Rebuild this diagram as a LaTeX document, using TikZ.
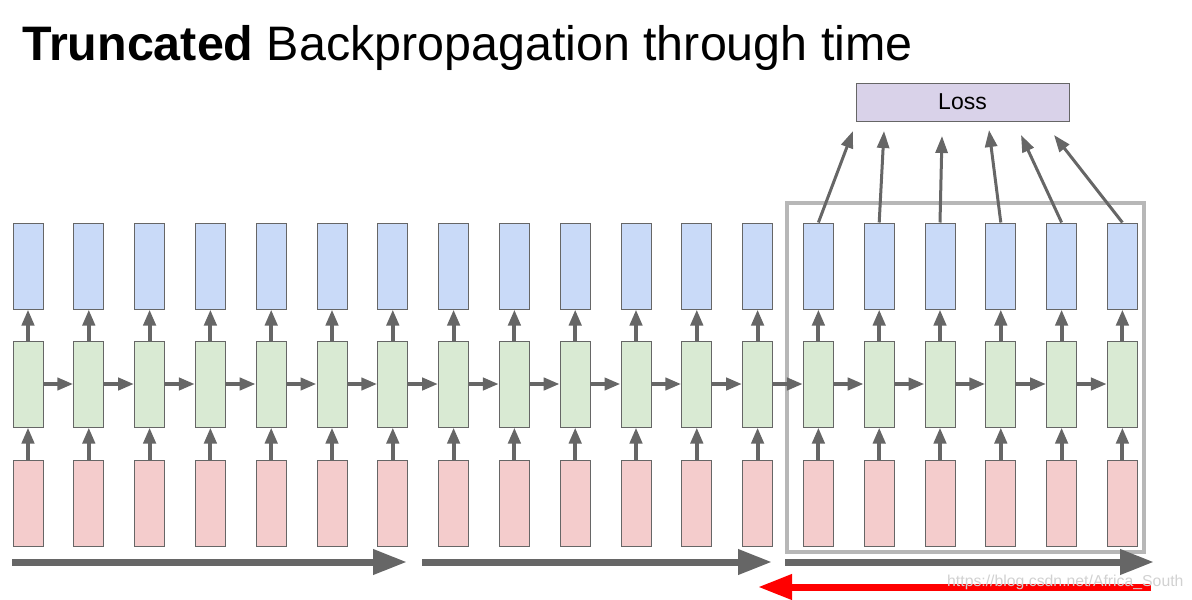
\documentclass[tikz,border=0pt]{standalone}
\usepackage{fontspec}
\setmainfont{Liberation Sans}
\usetikzlibrary{arrows.meta}

\definecolor{outblue}{HTML}{C9DAF8}
\definecolor{hidgreen}{HTML}{D9EAD3}
\definecolor{inred}{HTML}{F4CCCC}
\definecolor{losspurple}{HTML}{D9D2E9}
\definecolor{arrowgray}{HTML}{666666}
\definecolor{framegray}{HTML}{B7B7B7}

\tikzset{
  cell/.style={draw=arrowgray, line width=1pt, minimum width=30pt, minimum height=86pt, inner sep=0pt},
  steparrow/.style={draw=arrowgray, line width=4pt, -{Triangle[length=16pt,width=12pt]}},
  lossarrow/.style={draw=arrowgray, line width=3pt, -{Triangle[length=17pt,width=12pt]}},
  passarrow/.style={draw=arrowgray, line width=7pt, -{Triangle[length=34pt,width=24pt]}},
  lossbox/.style={draw=arrowgray, fill=losspurple, line width=1pt, minimum width=213pt, minimum height=38pt, inner sep=0pt, font=\fontsize{23}{26}\selectfont},
  titletext/.style={anchor=base west, inner sep=0pt, font=\fontsize{48.4}{56}\selectfont}
}

\begin{document}
\begin{tikzpicture}[x=1pt, y=-1pt]
  \useasboundingbox (0,0) rectangle (1192,600);

  % title
  \node[titletext] (title) at (22,60) {\textbf{Truncated} Backpropagation through time};

  % loss
  \node[lossbox] (loss) at (962.5,102) {Loss};

  % truncation window
  \draw[framegray, line width=4pt] (787,203) rectangle (1144,552);

  % unrolled cells
  \foreach \i in {0,...,18} {
    \node[cell, fill=inred]    (in\i)  at ({28+60.8*\i},503) {};
    \node[cell, fill=hidgreen] (hid\i) at ({28+60.8*\i},384) {};
    \node[cell, fill=outblue]  (out\i) at ({28+60.8*\i},266) {};
    \draw[steparrow] (in\i) -- (hid\i);
    \draw[steparrow] (hid\i) -- (out\i);
  }
  \foreach \i [count=\j] in {0,...,17} {
    \draw[steparrow] (hid\i) -- (hid\j);
  }

  % outputs into the loss
  \foreach \i/\ex/\ey in {13/853/131, 14/884/131, 15/942/136, 16/989/130, 17/1021/135, 18/1054/135} {
    \coordinate (top\i) at (\ex,\ey);
    \draw[lossarrow] (out\i.north) -- (top\i);
  }

  % forward passes
  \coordinate (fwdA) at (12,562);
  \coordinate (fwdB) at (407,562);
  \coordinate (fwdC) at (422,562);
  \coordinate (fwdD) at (772,562);
  \coordinate (fwdE) at (785,562);
  \coordinate (fwdF) at (1154,562);
  \draw[passarrow] (fwdA) -- (fwdB);
  \draw[passarrow] (fwdC) -- (fwdD);
  \draw[passarrow] (fwdE) -- (fwdF);

  % backward pass
  \coordinate (backA) at (1151,587);
  \coordinate (backB) at (758,587);
  \draw[passarrow, draw=red] (backA) -- (backB);

  % watermark
  \node[anchor=west, inner sep=0pt, text=black!18, font=\fontsize{15.8}{18}\selectfont] (mark) at (947,582) {https://blog.csdn.net/Africa\_South};
\end{tikzpicture}
\end{document}
